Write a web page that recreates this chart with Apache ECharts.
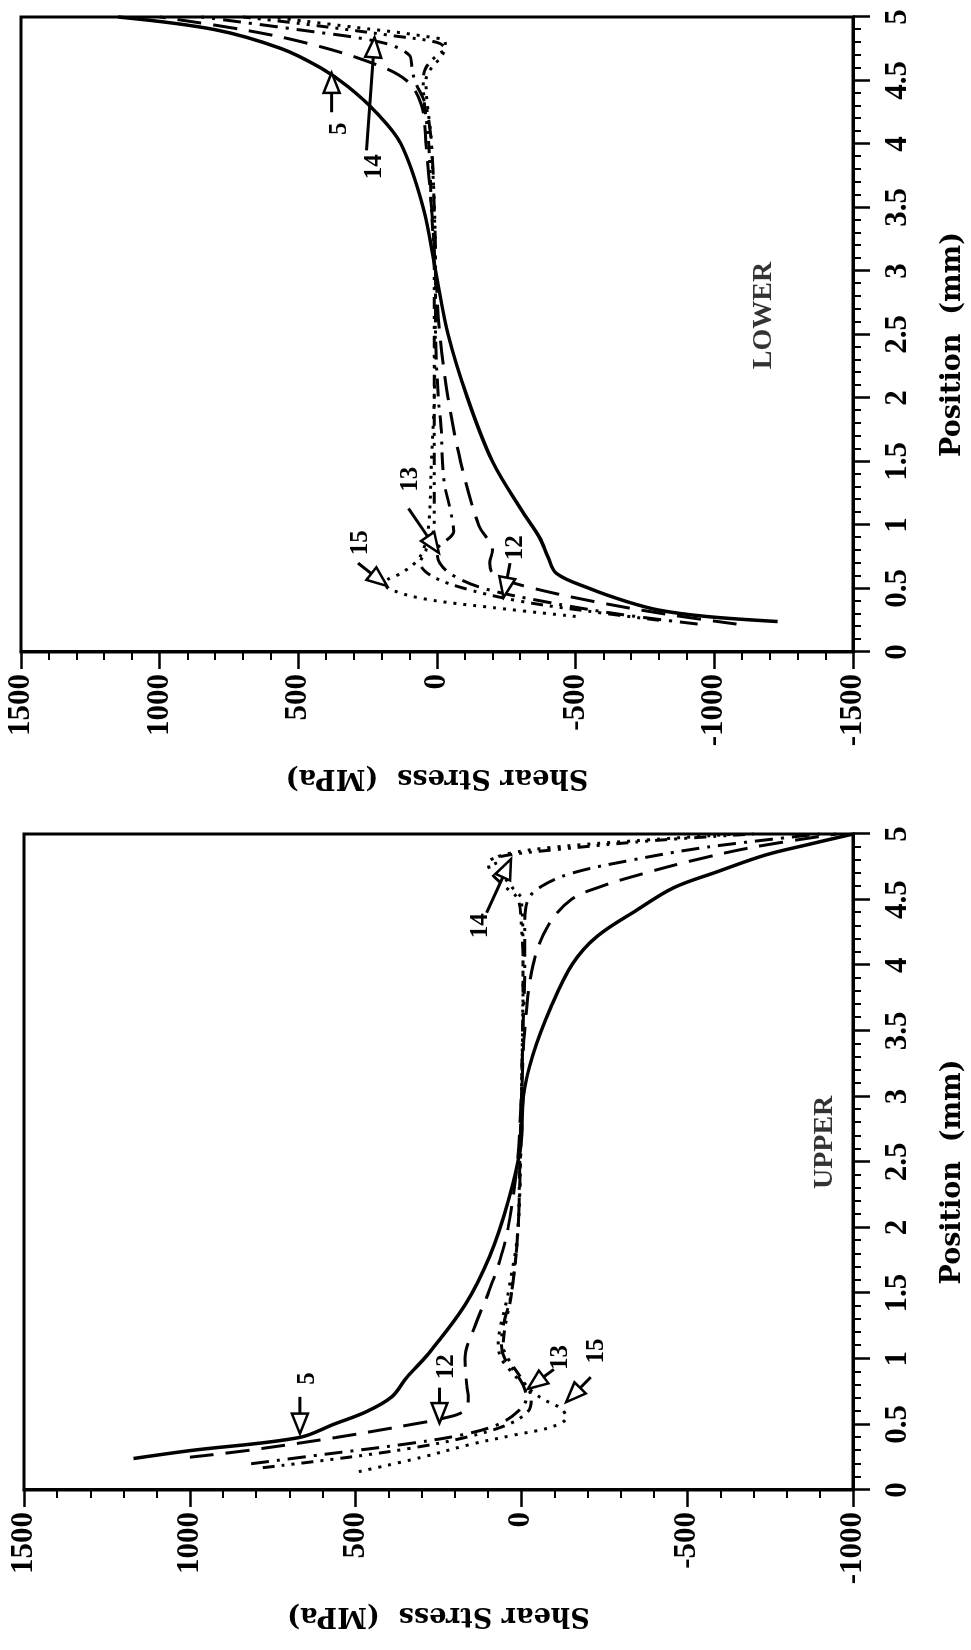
<!DOCTYPE html>
<html>
<head>
<meta charset="utf-8">
<script src="https://cdn.jsdelivr.net/npm/echarts@6.0.0/dist/echarts.min.js"></script>
<style>
html,body{margin:0;padding:0;background:#fff;width:971px;height:1650px;overflow:hidden}
#wrap{position:absolute;left:0;top:0;width:1650px;height:971px;transform-origin:0 0;transform:translateY(1650px) rotate(-90deg)}
#chart{width:1650px;height:971px}
</style>
</head>
<body>
<div id="wrap"><div id="chart"></div></div>
<script>
// ---------------- DATA ----------------
const panelNames = ['UPPER', 'LOWER'];
const upperStressRange = [-1000, 1500];
const lowerStressRange = [-1500, 1500];

// [position (mm), shear stress (MPa)]
const upper5  = [[0.24,1170],[0.3,1000],[0.4,670],[0.5,567],[0.6,465],[0.71,391],[0.86,345],[1.04,280],[1.41,170],[1.78,96],[2.2,40],[2.61,3],[3.0,-6],[3.31,-34],[3.68,-89],[4.01,-154],[4.22,-228],[4.42,-348],[4.59,-459],[4.71,-588],[4.84,-736],[4.92,-865],[5.0,-1000]];
const upper12 = [[0.25,1000],[0.3,830],[0.4,560],[0.5,330],[0.55,230],[0.6,175],[0.7,160],[0.8,165],[1.0,170],[1.25,140],[1.5,100],[1.75,65],[2.0,40],[2.5,12],[3.0,0],[3.5,-10],[4.0,-35],[4.3,-80],[4.5,-150],[4.6,-240],[4.7,-370],[4.8,-520],[4.9,-700],[5.0,-950]];
const upper13 = [[0.2,815],[0.27,600],[0.35,350],[0.42,180],[0.5,70],[0.6,10],[0.7,-15],[0.8,-5],[0.9,20],[1.0,50],[1.1,60],[1.25,55],[1.5,30],[2.0,10],[2.5,5],[3.0,0],[3.5,-5],[4.0,-10],[4.3,-10],[4.5,-20],[4.6,-60],[4.7,-150],[4.8,-330],[4.9,-560],[5.0,-900]];
const upper14 = [[0.17,780],[0.25,520],[0.32,330],[0.4,170],[0.5,40],[0.6,-20],[0.7,-30],[0.85,0],[1.0,40],[1.1,55],[1.5,30],[2.0,10],[3.0,0],[4.0,-5],[4.3,0],[4.5,10],[4.6,50],[4.7,90],[4.78,100],[4.83,60],[4.88,-100],[4.95,-400],[5.0,-700]];
const upper15 = [[0.14,490],[0.25,300],[0.35,150],[0.42,20],[0.48,-90],[0.55,-135],[0.62,-120],[0.7,-60],[0.8,-10],[0.9,30],[1.0,60],[1.1,70],[1.5,40],[2.0,10],[3.0,0],[4.0,-5],[4.5,0],[4.6,30],[4.7,60],[4.8,80],[4.85,40],[4.9,-100],[4.95,-350],[5.0,-650]];

const lower5  = [[0.24,-1228],[0.28,-970],[0.33,-800],[0.4,-680],[0.5,-550],[0.62,-430],[0.75,-400],[0.9,-370],[1.1,-310],[1.5,-200],[2.0,-110],[2.5,-40],[3.0,5],[3.5,50],[4.0,130],[4.25,220],[4.45,320],[4.6,420],[4.75,560],[4.9,800],[5.0,1150]];
const lower12 = [[0.22,-1080],[0.3,-820],[0.4,-560],[0.5,-350],[0.57,-240],[0.62,-200],[0.7,-190],[0.8,-200],[1.0,-150],[1.5,-85],[2.0,-40],[2.5,-10],[3.0,5],[3.5,20],[4.0,40],[4.3,55],[4.5,110],[4.65,250],[4.8,480],[4.9,700],[5.0,1000]];
const lower13 = [[0.22,-940],[0.3,-650],[0.4,-380],[0.5,-170],[0.6,-60],[0.7,-10],[0.8,0],[0.95,-60],[1.1,-50],[1.35,-25],[1.75,-15],[2.0,-5],[2.5,5],[3.0,5],[3.5,10],[4.0,20],[4.3,40],[4.5,80],[4.6,90],[4.7,100],[4.8,200],[4.9,500],[5.0,850]];
const lower14 = [[0.25,-800],[0.32,-550],[0.4,-300],[0.5,-100],[0.6,20],[0.7,60],[0.8,40],[1.0,10],[1.5,10],[2.0,10],[3.0,10],[3.5,20],[4.0,30],[4.5,50],[4.6,40],[4.7,0],[4.75,-30],[4.8,0],[4.85,150],[4.95,500],[5.0,700]];
const lower15 = [[0.28,-500],[0.35,-200],[0.42,50],[0.5,175],[0.55,185],[0.62,130],[0.7,80],[0.8,50],[1.0,30],[1.5,20],[2.0,10],[3.0,5],[4.0,20],[4.5,40],[4.6,20],[4.7,-20],[4.8,-30],[4.85,50],[4.92,300],[5.0,600]];

// annotation arrows: [tailPos, tailStress, tipPos, tipStress, labelPos, labelStress, text]
const upperArrows = [
  [0.71, 668, 0.43, 668, 0.85, 645, '5'],
  [0.78, 247, 0.51, 247, 0.94, 225, '12'],
  [0.92, -98, 0.77, -19, 1.01, -117, '13'],
  [0.86, -209, 0.67, -135, 1.06, -228, '15'],
  [4.40, 105, 4.81, 31, 4.30, 123, '14']
];
const lowerArrows = [
  [4.25, 380, 4.56, 380, 4.12, 350, '5'],
  [3.95, 254, 4.84, 225, 3.82, 225, '14'],
  [0.70, 285, 0.52, 180, 0.86, 275, '15'],
  [1.13, 103, 0.78, -7, 1.36, 95, '13'],
  [0.70, -263, 0.43, -240, 0.82, -285, '12']
];
const panelLabelPos = [[2.65, -915], [2.65, -1180]];

// ---------------- STYLE ----------------
const FONT = '"Liberation Serif", "DejaVu Serif", serif';
const NAMEFONT = '"DejaVu Serif", "Liberation Serif", serif';
const styles = {
  s5:  {type: 'solid', width: 3.5},
  s12: {type: [24, 12], width: 3},
  s13: {type: [18, 8, 3, 8], width: 3},
  s14: {type: [12, 7, 3, 7, 3, 7], width: 3},
  s15: {type: [3, 7], width: 3}
};

function xAxisCfg(gi, padRight) {
  return {
    gridIndex: gi, type: 'value', min: 0, max: 5, interval: 0.5,
    name: 'Position  (mm)', nameLocation: 'middle', nameGap: 86,
    nameTextStyle: {fontFamily: NAMEFONT, fontWeight: 'bold', fontSize: 27, color: '#000', padding: [0, padRight, 0, 0]},
    axisLine: {show: true, onZero: false, lineStyle: {color: '#000', width: 3}},
    axisTick: {show: true, length: 17, lineStyle: {color: '#000', width: 2.5}},
    minorTick: {show: true, splitNumber: 5, length: 8, lineStyle: {color: '#000', width: 2}},
    splitLine: {show: false},
    axisLabel: {margin: 29, fontFamily: FONT, fontWeight: 'bold', fontSize: 31, color: '#000', formatter: v => String(v)}
  };
}
function yAxisCfg(gi, range) {
  return {
    gridIndex: gi, type: 'value', min: range[0], max: range[1], interval: 500,
    name: 'Shear Stress  (MPa)', nameLocation: 'middle', nameGap: 112,
    nameTextStyle: {fontFamily: NAMEFONT, fontWeight: 'bold', fontSize: 27, color: '#000'},
    axisLine: {show: true, onZero: false, lineStyle: {color: '#000', width: 3}},
    axisTick: {show: true, length: 17, lineStyle: {color: '#000', width: 2.5}},
    minorTick: {show: true, splitNumber: 5, length: 8, lineStyle: {color: '#000', width: 2}},
    splitLine: {show: false},
    axisLabel: {margin: 22, fontFamily: FONT, fontWeight: 'bold', fontSize: 31, color: '#000', formatter: v => String(v)}
  };
}
function curve(gi, data, st) {
  return {
    type: 'line', xAxisIndex: gi, yAxisIndex: gi, data: data, smooth: 0.35,
    showSymbol: false, symbol: 'none', lineStyle: Object.assign({color: '#000'}, st),
    silent: true, z: 3
  };
}
function arrowSeries(gi, arrows) {
  return {
    type: 'custom', xAxisIndex: gi, yAxisIndex: gi, silent: true, z: 5,
    data: arrows.map(a => [a[2], a[3]]),
    renderItem: function (params, api) {
      const a = arrows[params.dataIndex];
      const t = api.coord([a[0], a[1]]);
      const h = api.coord([a[2], a[3]]);
      const l = api.coord([a[4], a[5]]);
      const dx = h[0] - t[0], dy = h[1] - t[1];
      const len = Math.sqrt(dx * dx + dy * dy) || 1;
      const ux = dx / len, uy = dy / len;
      const hl = 20, hw = 8;
      const bx = h[0] - ux * hl, by = h[1] - uy * hl;
      return {
        type: 'group',
        children: [
          {type: 'line', shape: {x1: t[0], y1: t[1], x2: bx, y2: by}, style: {stroke: '#000', lineWidth: 3}},
          {type: 'polygon', shape: {points: [[h[0], h[1]], [bx - uy * hw, by + ux * hw], [bx + uy * hw, by - ux * hw]]},
            style: {fill: '#fff', stroke: '#000', lineWidth: 2.5}},
          {type: 'text', style: {text: a[6], x: l[0], y: l[1], align: 'center', verticalAlign: 'middle',
            font: 'bold 25px ' + FONT, fill: '#000'}}
        ]
      };
    }
  };
}
function panelLabel(gi, pos, text) {
  return {
    type: 'scatter', xAxisIndex: gi, yAxisIndex: gi, silent: true, symbolSize: 0,
    data: [pos],
    label: {show: true, position: 'inside', formatter: text, fontFamily: FONT, fontWeight: 'bold', fontSize: 28, color: '#000'}
  };
}

const option = {
  animation: false,
  backgroundColor: '#fff',
  grid: [
    {left: 160, top: 24, width: 656, height: 837, show: true, borderColor: '#000', borderWidth: 3, backgroundColor: 'transparent'},
    {left: 998, top: 21, width: 635, height: 839, show: true, borderColor: '#000', borderWidth: 3, backgroundColor: 'transparent'}
  ],
  xAxis: [xAxisCfg(0, 20), xAxisCfg(1, 20)],
  yAxis: [yAxisCfg(0, upperStressRange), yAxisCfg(1, lowerStressRange)],
  series: [
    curve(0, upper5, styles.s5), curve(0, upper12, styles.s12), curve(0, upper13, styles.s13),
    curve(0, upper14, styles.s14), curve(0, upper15, styles.s15),
    curve(1, lower5, styles.s5), curve(1, lower12, styles.s12), curve(1, lower13, styles.s13),
    curve(1, lower14, styles.s14), curve(1, lower15, styles.s15),
    arrowSeries(0, upperArrows), arrowSeries(1, lowerArrows),
    panelLabel(0, panelLabelPos[0], panelNames[0]), panelLabel(1, panelLabelPos[1], panelNames[1])
  ]
};
const chart = echarts.init(document.getElementById('chart'), null, {renderer: 'canvas'});
chart.setOption(option);
</script>
</body>
</html>
